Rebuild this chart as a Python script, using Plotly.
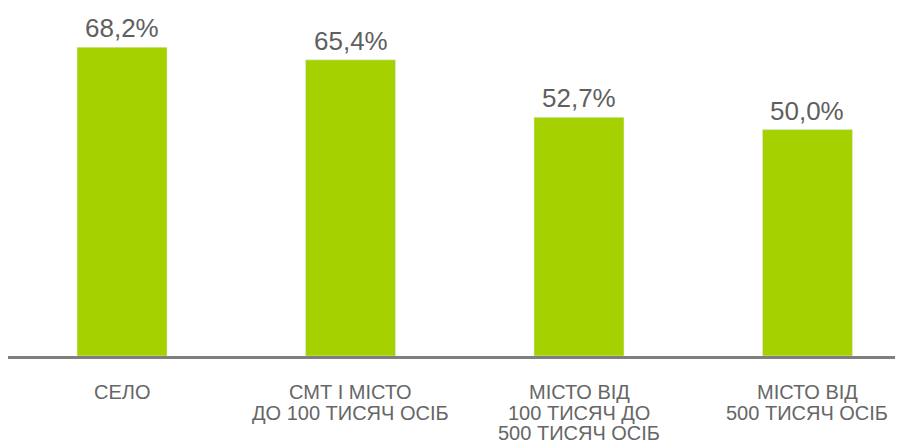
import plotly.graph_objects as go

categories = [
    ["СЕЛО"],
    ["СМТ І МІСТО", "ДО 100 ТИСЯЧ ОСІБ"],
    ["МІСТО ВІД", "100 ТИСЯЧ ДО", "500 ТИСЯЧ ОСІБ"],
    ["МІСТО ВІД", "500 ТИСЯЧ ОСІБ"],
]
values = [68.2, 65.4, 52.7, 50.0]

xs = list(range(len(values)))
fig = go.Figure(go.Bar(
    x=xs, y=values,
    marker_color="#A5D100", width=0.394,
    cliponaxis=False, hoverinfo="skip",
))

anns = []
for i, v in enumerate(values):
    anns.append(dict(
        x=i, y=v, xref="x", yref="y", text=f"{v:.1f}%".replace(".", ","),
        showarrow=False, yanchor="bottom", yshift=2,
        font=dict(family="Liberation Sans, Arial", size=26, color="#5f5f5f"),
    ))
for i, lines in enumerate(categories):
    for k, line in enumerate(lines):
        anns.append(dict(
            x=i, y=0, xref="x", yref="y", text=line,
            showarrow=False, yanchor="middle", yshift=-(36 + 20.5 * k),
            font=dict(family="Liberation Sans, Arial", size=20, color="#666666"),
        ))

fig.update_layout(
    width=903, height=445,
    margin=dict(l=0, r=0, t=2, b=97),
    plot_bgcolor="white", paper_bgcolor="white",
    showlegend=False,
    annotations=anns,
    xaxis=dict(range=[-0.499, 3.453], showticklabels=False, showline=True,
               linecolor="#7F7F7F", linewidth=3,
               showgrid=False, zeroline=False, ticks=""),
    yaxis=dict(range=[0, 76.4], visible=False, showgrid=False, zeroline=False),
)
fig.write_html("out.html")
